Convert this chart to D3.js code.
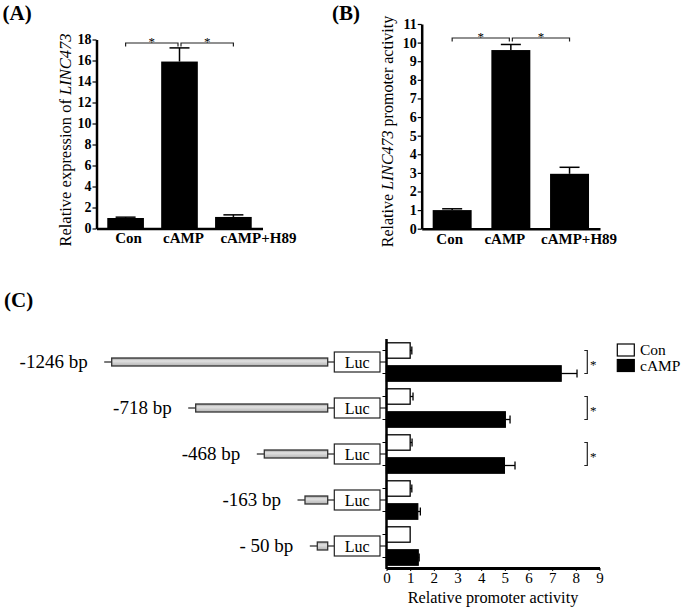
<!DOCTYPE html>
<html><head><meta charset="utf-8">
<script src="https://cdn.jsdelivr.net/npm/d3@7"></script>
<style>
body{margin:0;background:#fff;}
svg{display:block;font-family:"Liberation Serif","Times New Roman",serif;}
text{fill:#000;}
</style></head>
<body><svg id="c" width="685" height="611"></svg>
<script>
// ---------- DATA ----------
const catsAB = ["Con", "cAMP", "cAMP+H89"];
const valuesA = [1.0, 15.9, 1.1];
const errA = [0.08, 1.3, 0.2];
const ticksA = [0, 2, 4, 6, 8, 10, 12, 14, 16, 18];
const valuesB = [1.0, 9.6, 2.95];
const errB = [0.07, 0.3, 0.35];
const ticksB = [0,1,2,3,4,5,6,7,8,9,10,11];
const sigPairs = [["Con","cAMP"],["cAMP","cAMP+H89"]];

const constructs = ["-1246 bp", "-718 bp", "-468 bp", "-163 bp", "- 50 bp"];
const constructBp = [1246, 718, 468, 163, 50];
const seriesC = ["Con", "cAMP"];
const conC = [1.0, 1.0, 1.0, 1.0, 1.0];
const conErrC = [0.07, 0.12, 0.08, 0.07, 0.0];
const campC = [7.38, 5.02, 4.98, 1.32, 1.34];
const campErrC = [0.67, 0.2, 0.45, 0.11, 0.04];
const sigC = [true, true, true, false, false];
const ticksC = [0,1,2,3,4,5,6,7,8,9];

const svg = d3.select("#c");
const black = "#000";

// ---------- panel labels ----------
svg.append("text").attr("x",2.5).attr("y",20).attr("font-size",21).attr("font-weight","bold").text("(A)");
svg.append("text").attr("x",332).attr("y",20).attr("font-size",21).attr("font-weight","bold").text("(B)");
svg.append("text").attr("x",4).attr("y",307).attr("font-size",21).attr("font-weight","bold").text("(C)");

// ---------- generic vertical bar panel ----------
function barPanel(opt){
  const g = svg.append("g");
  const x = d3.scaleBand().domain(catsAB).range(opt.xr).paddingInner(opt.pi).paddingOuter(opt.po);
  const y = d3.scaleLinear().domain(opt.dom).range(opt.yr);
  g.selectAll("rect.bar").data(opt.vals).join("rect")
    .attr("x",(d,i)=>x(catsAB[i])).attr("width",x.bandwidth())
    .attr("y",d=>y(d)).attr("height",d=>y(0)-y(d)).attr("fill",black);
  opt.vals.forEach((v,i)=>{
    const cx = x(catsAB[i]) + x.bandwidth()/2;
    const top = y(v+opt.err[i]);
    g.append("line").attr("x1",cx).attr("x2",cx).attr("y1",y(v)).attr("y2",top).attr("stroke",black).attr("stroke-width",1.5);
    g.append("line").attr("x1",cx-10).attr("x2",cx+10).attr("y1",top).attr("y2",top).attr("stroke",black).attr("stroke-width",1.5);
  });
  const ya = g.append("g").attr("transform",`translate(${opt.xr[0]},0)`)
    .call(d3.axisLeft(y).tickValues(opt.ticks).tickSize(4).tickSizeOuter(0).tickPadding(1));
  ya.select(".domain").attr("stroke-width",2.5);
  ya.selectAll(".tick line").attr("stroke-width",1.2);
  ya.selectAll(".tick text").attr("font-family","Liberation Serif").attr("font-size",14).attr("font-weight","bold").attr("fill",black);
  const xa = g.append("g").attr("transform",`translate(0,${y(0)})`)
    .call(d3.axisBottom(x).tickSize(0).tickPadding(opt.tp));
  xa.select(".domain").attr("stroke-width",2.5);
  xa.selectAll(".tick text").attr("font-family","Liberation Serif").attr("font-size",15).attr("font-weight","bold").attr("fill",black)
    .attr("dx",(d,i)=>opt.labelDx[i]);
  const t = g.append("text").attr("transform",`translate(${opt.titleX},${opt.titleY}) rotate(-90)`)
    .attr("text-anchor","middle").attr("font-size",opt.titleFs);
  opt.title.forEach(p=>t.append("tspan").attr("font-style",p[1]?"italic":"normal").text(p[0]));
  sigPairs.forEach((pr,k)=>{
    const a = x(pr[0])+x.bandwidth()/2 + (k===1?1.5:0);
    const b = x(pr[1])+x.bandwidth()/2 - (k===0?1.5:0);
    const by = opt.brY;
    g.append("path").attr("d",`M${a},${by+3.5}V${by}H${b}V${by+3.5}`).attr("fill","none").attr("stroke","#222").attr("stroke-width",1.2);
    g.append("text").attr("x",(a+b)/2).attr("y",by+2.5).attr("text-anchor","middle").attr("font-size",13).attr("fill","#000").text("*");
  });
}

barPanel({xr:[96.5,262.5], pi:0.32, po:0.2, dom:[0,18], yr:[228.5,39.5], vals:valuesA, err:errA, ticks:ticksA, tp:4,
  labelDx:[3,4,25],
  titleX:70.5, titleY:140, titleFs:16.5, title:[["Relative expression of ",false],["LINC473",true]], brY:43});
barPanel({xr:[421.7,600], pi:0.336, po:0.187, dom:[0,11], yr:[228.7,24], vals:valuesB, err:errB, ticks:ticksB, tp:5,
  labelDx:[-2.5,-6,9.5],
  titleX:393, titleY:131.5, titleFs:16, title:[["Relative ",false],["LINC473",true],[" promoter activity",false]], brY:38});

// ---------- panel C ----------
const gC = svg.append("g");
const xC = d3.scaleLinear().domain([0,9]).range([386.5,599.5]);
const yG = d3.scaleBand().domain(constructs).range([339,569]);
const yS = d3.scaleBand().domain(seriesC).range([0,yG.bandwidth()]).paddingInner(0.33).paddingOuter(0.165);
// schematic promoter-length scale (bp upstream -> x)
const bpX = d3.scaleLinear().domain([0,50,163,468,718,1246]).range([327.7,317.3,305,264.3,195.7,111.7]);

const defs = svg.append("defs");
const grad = defs.append("linearGradient").attr("id","gray").attr("x1",0).attr("x2",0).attr("y1",0).attr("y2",1);
grad.append("stop").attr("offset","0%").attr("stop-color","#9a9a9a");
grad.append("stop").attr("offset","35%").attr("stop-color","#e2e2e2");
grad.append("stop").attr("offset","100%").attr("stop-color","#b4b4b4");

constructs.forEach((c,i)=>{
  const cy = yG(c) + yG.bandwidth()/2;
  const x0 = bpX(constructBp[i]);
  const xEnd = bpX(0);
  const lucX0 = 334.3, lucX1 = 380;
  gC.append("line").attr("x1",x0-7.5).attr("x2",x0).attr("y1",cy).attr("y2",cy).attr("stroke","#222").attr("stroke-width",1.2);
  gC.append("line").attr("x1",xEnd).attr("x2",lucX0).attr("y1",cy).attr("y2",cy).attr("stroke","#222").attr("stroke-width",1.2);
  gC.append("line").attr("x1",lucX1).attr("x2",xC(0)).attr("y1",cy).attr("y2",cy).attr("stroke","#222").attr("stroke-width",1.2);
  gC.append("rect").attr("x",x0).attr("y",cy-4).attr("width",xEnd-x0).attr("height",8)
    .attr("fill","url(#gray)").attr("stroke","#333").attr("stroke-width",1.3);
  gC.append("rect").attr("x",lucX0).attr("y",cy-10).attr("width",lucX1-lucX0).attr("height",20)
    .attr("fill","#fff").attr("stroke","#222").attr("stroke-width",1.2);
  gC.append("text").attr("x",(lucX0+lucX1)/2).attr("y",cy+5.5).attr("text-anchor","middle").attr("font-size",16).text("Luc");
  gC.append("text").attr("x",x0-24).attr("y",cy+6).attr("text-anchor","end").attr("font-size",19).text(c);

  const data = [[conC[i],conErrC[i],"#fff"],[campC[i],campErrC[i],"#000"]];
  data.forEach((d,j)=>{
    const by = yG(c)+yS(seriesC[j]);
    const h = yS.bandwidth();
    gC.append("rect").attr("x",xC(0)).attr("y",by).attr("width",xC(d[0])-xC(0)).attr("height",h)
      .attr("fill",d[2]).attr("stroke","#000").attr("stroke-width",1.3);
    if(d[1]>0){
      const ex = xC(d[0]+d[1]);
      gC.append("line").attr("x1",xC(d[0])).attr("x2",ex).attr("y1",by+h/2).attr("y2",by+h/2).attr("stroke","#000").attr("stroke-width",1.3);
      gC.append("line").attr("x1",ex).attr("x2",ex).attr("y1",by+h/2-4).attr("y2",by+h/2+4).attr("stroke","#000").attr("stroke-width",1.3);
    }
    gC.append("line").attr("x1",xC(0)-4).attr("x2",xC(0)).attr("y1",by+h/2).attr("y2",by+h/2).attr("stroke","#000").attr("stroke-width",1);
  });
  if(sigC[i]){
    const ya = yG(c)+yS("Con")+yS.bandwidth()/2;
    const yb = yG(c)+yS("cAMP")+yS.bandwidth()/2;
    const bx = 587.3;
    gC.append("path").attr("d",`M${bx-3},${ya}H${bx}V${yb}H${bx-3}`).attr("fill","none").attr("stroke","#222").attr("stroke-width",1.2);
    gC.append("text").attr("x",590).attr("y",(ya+yb)/2+7).attr("font-size",13).attr("fill","#000").text("*");
  }
});

gC.append("line").attr("x1",xC(0)).attr("x2",xC(0)).attr("y1",339).attr("y2",569).attr("stroke","#000").attr("stroke-width",2.5);
const xaC = gC.append("g").attr("transform","translate(0,568)")
  .call(d3.axisBottom(xC).tickValues(ticksC).tickFormat(d3.format("d")).tickSize(3).tickSizeOuter(0).tickPadding(1.5));
xaC.select(".domain").attr("stroke-width",3);
xaC.selectAll(".tick text").attr("font-family","Liberation Serif").attr("font-size",15).attr("fill","#000");
gC.append("text").attr("x",493).attr("y",603).attr("text-anchor","middle").attr("font-size",16.25).text("Relative promoter activity");

seriesC.forEach((s,j)=>{
  const ly = 344 + j*15.5;
  gC.append("rect").attr("x",617.3).attr("y",ly).attr("width",17).attr("height",12)
    .attr("fill",j===0?"#fff":"#000").attr("stroke","#000").attr("stroke-width",1.2);
  gC.append("text").attr("x",640).attr("y",ly+11).attr("font-size",15.5).text(s);
});
</script></body></html>
